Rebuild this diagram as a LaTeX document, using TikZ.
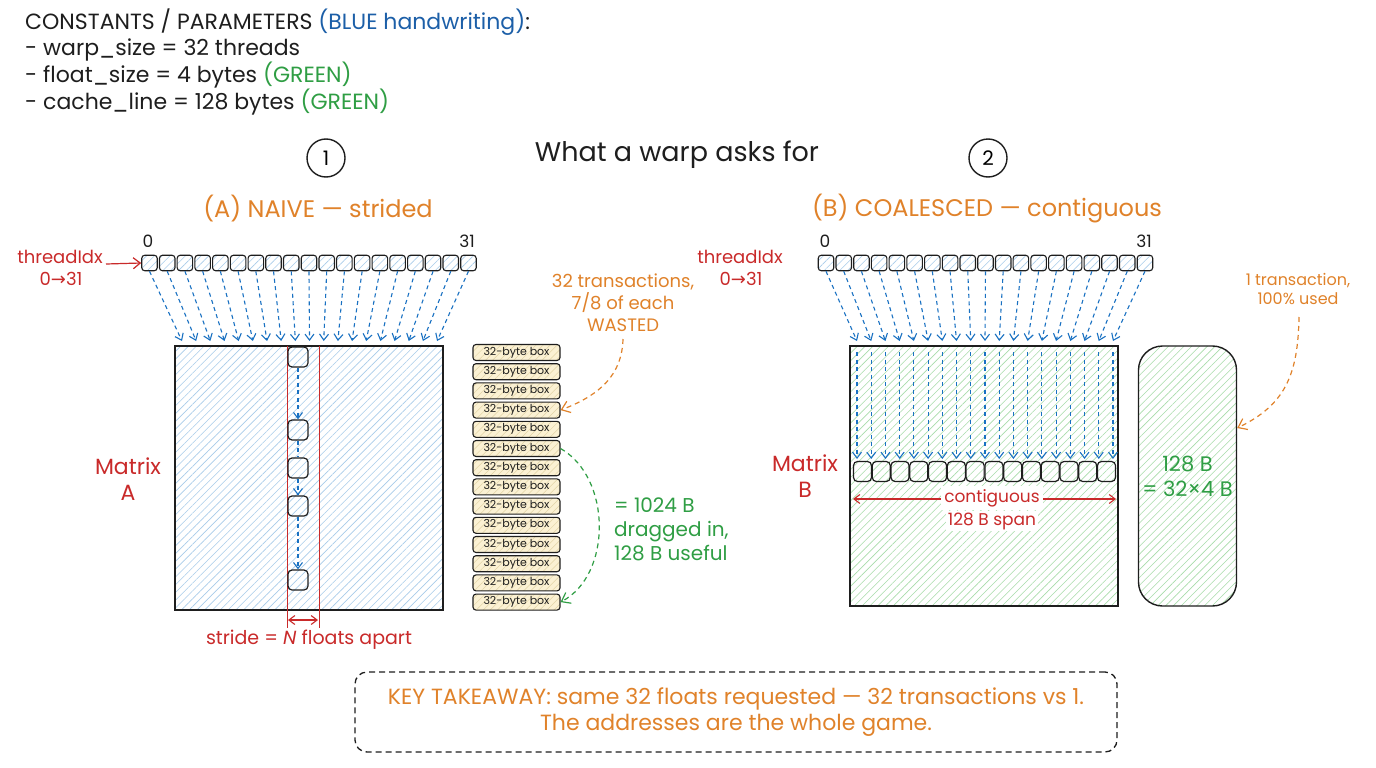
\documentclass[tikz,border=0pt]{standalone}
\usepackage{fontspec}
\setmainfont{Poppins}
\newfontfamily\symf{DejaVu Sans}
\usetikzlibrary{arrows.meta,patterns.meta}
\definecolor{inkc}{HTML}{1E1E1E}
\definecolor{bluec}{HTML}{1971C2}
\definecolor{bluetxt}{HTML}{1C5FA8}
\definecolor{orangec}{HTML}{E0822A}
\definecolor{redc}{HTML}{C92A2A}
\definecolor{greenc}{HTML}{2F9E44}
\definecolor{hatchblue}{HTML}{A8CCEA}
\definecolor{hatchgreen}{HTML}{A8DCAA}
\definecolor{boxfill}{HTML}{FBF1D3}
\definecolor{boxhatch}{HTML}{E2D3A6}
\begin{document}
\begin{tikzpicture}[x=1pt,y=-1pt,
  fs/.style={font=\fontsize{#1}{\the\numexpr#1*6/5\relax}\selectfont},
  inkline/.style={draw=inkc,line width=1.4pt},
  hatchA/.style={pattern={Lines[angle=45,distance=5.5pt,line width=0.6pt]},pattern color=hatchblue},
  hatchB/.style={pattern={Lines[angle=45,distance=5.5pt,line width=0.6pt]},pattern color=hatchgreen},
  thread/.style={inkline,line width=1.1pt,rounded corners=3pt,minimum width=15.5pt,minimum height=15.5pt,inner sep=0pt,preaction={fill=white},hatchA},
  cellA/.style={inkline,line width=1.2pt,rounded corners=4pt,minimum width=20pt,minimum height=20pt,inner sep=0pt,preaction={fill=white},hatchA},
  cellB/.style={inkline,line width=1.2pt,rounded corners=4pt,minimum width=18pt,minimum height=20pt,inner sep=0pt,preaction={fill=white},hatchB},
  bytebox/.style={inkline,line width=1.1pt,rounded corners=3pt,minimum width=87pt,minimum height=16pt,inner sep=0pt,preaction={fill=boxfill},pattern={Lines[angle=45,distance=5pt,line width=0.5pt]},pattern color=boxhatch,text=inkc,fs=11},
  bluearr/.style={draw=bluec,line width=1.1pt,dash pattern=on 4pt off 3.5pt,-{Straight Barb[length=6pt,width=9pt]}},
  bluedash/.style={draw=bluec,line width=1.1pt,dash pattern=on 4pt off 3.5pt},
  redarr/.style={draw=redc,line width=1.2pt,-{Straight Barb[length=7pt,width=11pt]}},
  redboth/.style={draw=redc,line width=1.1pt,{Straight Barb[length=6pt,width=9pt]}-{Straight Barb[length=6pt,width=9pt]}},
  orangearr/.style={draw=orangec,line width=1.2pt,dash pattern=on 5pt off 4pt,-{Straight Barb[length=8pt,width=12pt]}},
  greenarr/.style={draw=greenc,line width=1.2pt,dash pattern=on 5pt off 4pt,-{Straight Barb[length=8pt,width=12pt]}},
  lbl/.style={inner sep=0pt,align=center}
]
\useasboundingbox (0,0) rectangle (1376,768);
\fill[white] (0,0) rectangle (1376,768);

% constants
\node[lbl,anchor=west,align=left,text=inkc,fs=22] (consts) at (25,62) {%
CONSTANTS / PARAMETERS {\color{bluetxt}(BLUE handwriting)}:\\
- warp\_size = 32 threads\\
- float\_size = 4 bytes {\color{greenc}(GREEN)}\\
- cache\_line = 128 bytes {\color{greenc}(GREEN)}};

% titles
\node[lbl,text=inkc,fs=27] (title) at (677,155) {What a warp asks for};
\node[circle,inkline,minimum size=38pt,inner sep=0pt,fs=20] (c1) at (326,158) {1};
\node[circle,inkline,minimum size=38pt,inner sep=0pt,fs=20] (c2) at (988,158) {2};
\node[lbl,text=orangec,fs=24] (tA) at (318,209) {(A) NAIVE — strided};
\node[lbl,text=orangec,fs=24] (tB) at (987,209) {(B) COALESCED — contiguous};

% ---------------- Panel A ----------------
\node[lbl,text=inkc,fs=17] (a0) at (148,241) {0};
\node[lbl,text=inkc,fs=17] (a31) at (467,241) {31};
\node[lbl,text=redc,fs=18] (tiA) at (60,257) {threadIdx};
\node[lbl,text=redc,fs=18] (tiA2) at (61,279) {0{\symf →}31};

\node[inkline,minimum width=268pt,minimum height=264pt,inner sep=0pt,hatchA] (matA) at (309,478) {};

\foreach \i in {0,...,18} {
  \node[thread] (ta\i) at ({149.5+\i*17.72},263) {};
  \coordinate (ea\i) at ({182+\i*14.17},341);
  \draw[bluearr] (ta\i.south) -- (ea\i);
}
\coordinate (tiAe) at (106,264);
\draw[redarr] (tiAe) -- (ta0.west);

% stride lines
\coordinate (s1t) at (287,346); \coordinate (s1b) at (287,628);
\coordinate (s2t) at (319,346); \coordinate (s2b) at (319,628);
\draw[redc,line width=1pt] (s1t) -- (s1b);
\draw[redc,line width=1pt] (s2t) -- (s2b);
\coordinate (sl) at (288,620); \coordinate (sr) at (318,620);
\draw[redboth] (sl) -- (sr);
\node[lbl,text=redc,fs=19] (stride) at (309,640) {stride = \textit{N} floats apart};

\foreach \y [count=\k] in {357,430,468,506,580}
  \node[cellA] (ca\k) at (298,\y) {};
\draw[bluearr] (ca1) -- (ca2);
\draw[bluedash] (ca2) -- (ca3);
\draw[bluearr] (ca3) -- (ca4);
\draw[bluearr] (ca4) -- (ca5);

\node[lbl,text=redc,fs=22] (mA) at (128,479) {Matrix\\A};

% 32-byte boxes
\foreach \i in {0,...,13}
  \node[bytebox] (bb\i) at (516.5,{352.5+\i*19.2}) {32-byte box};

\node[lbl,text=orangec,fs=18] (waste) at (623,303) {32 transactions,\\7/8 of each\\WASTED};
\coordinate (wst) at (623,339);
\draw[orangearr] (wst) .. controls (622,375) and (600,395) .. (bb3.east);

\draw[greenarr] (bb5.east) .. controls (612,478) and (612,575) .. (bb13.east);
\node[lbl,text=greenc,fs=20,anchor=west,align=left] (drag) at (614,529) {= 1024 B\\dragged in,\\128 B useful};

% ---------------- Panel B ----------------
\node[lbl,text=inkc,fs=17] (b0) at (825,241) {0};
\node[lbl,text=inkc,fs=17] (b31) at (1144,241) {31};
\node[lbl,text=redc,fs=18] (tiB) at (740,257) {threadIdx};
\node[lbl,text=redc,fs=18] (tiB2) at (741,279) {0{\symf →}31};

\node[inkline,minimum width=268pt,minimum height=260pt,inner sep=0pt,hatchB] (matB) at (984,476) {};

\foreach \i in {0,...,18} {
  \node[thread] (tb\i) at ({826+\i*17.72},263) {};
  \coordinate (eb\i) at ({857+\i*14.22},341);
  \draw[bluearr] (tb\i.south) -- (eb\i);
  \coordinate (vt\i) at ({857+\i*14.22},352);
  \coordinate (vb\i) at ({857+\i*14.22},459);
  \draw[bluearr] (vt\i) -- (vb\i);
}
\foreach \i in {0,...,13}
  \node[cellB] (cb\i) at ({862.5+\i*18.77},471.5) {};

\node[lbl,text=redc,fs=22] (mB) at (805,476) {Matrix\\B};

\coordinate (cl) at (853,499); \coordinate (cr) at (1116,499);
\draw[redboth] (cl) -- (cr);
\node[fill=white,inner sep=3pt,text=redc,fs=17] (contig) at (992,498) {contiguous};
\node[fill=white,inner sep=2pt,text=redc,fs=17] (span) at (992,521) {128 B span};

\node[inkline,rounded corners=24pt,minimum width=98pt,minimum height=260pt,inner sep=0pt,hatchB,text=greenc,fs=21,align=center] (cache) at (1187.5,476) {128 B\\= 32×4 B};

\node[lbl,text=orangec,fs=16] (onetx) at (1298,289) {1 transaction,\\100\% used};
\coordinate (otx) at (1299,317);
\draw[orangearr] (otx) .. controls (1298,375) and (1285,405) .. (cache.44);

% key takeaway
\node[draw=inkc,line width=1.3pt,dash pattern=on 6pt off 4pt,rounded corners=12pt,minimum width=762pt,minimum height=80pt,text=orangec,fs=22,align=center] (key) at (736,712)
{KEY TAKEAWAY: same 32 floats requested — 32 transactions vs 1.\\The addresses are the whole game.};
\end{tikzpicture}
\end{document}
